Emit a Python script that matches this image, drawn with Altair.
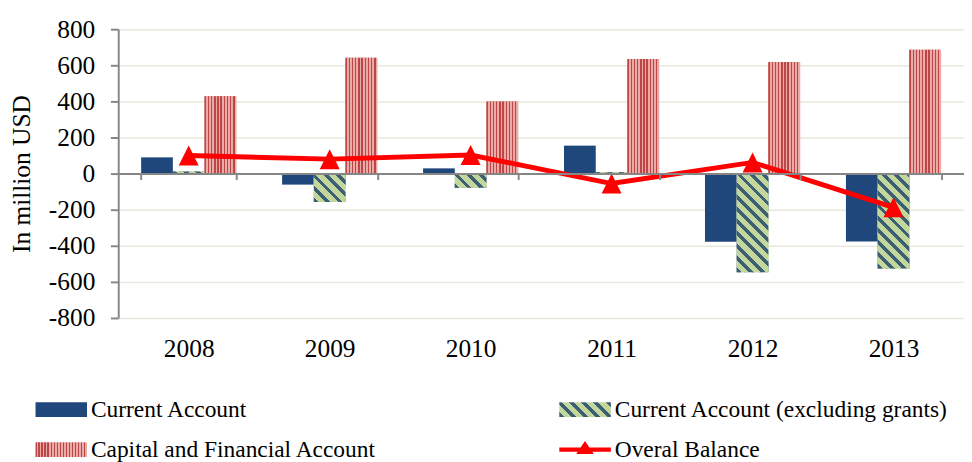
import altair as alt
import pandas as pd

# ---------------- data ----------------
years = ["2008", "2009", "2010", "2011", "2012", "2013"]
current_account = [90, -61, 29, 155, -378, -376]
current_account_ex_grants = [12, -158, -79, 8, -546, -526]
capital_financial = [429, 642, 400, 635, 618, 686]
overall_balance = [100, 80, 103, -55, 62, -187]

series_names = [
    "Current Account",
    "Current Account (excluding grants)",
    "Capital and Financial Account",
    "Overal Balance",
]
bar_series = series_names[:3]
y_ticks = [-800, -600, -400, -200, 0, 200, 400, 600, 800]
y_domain = [-800, 800]

# ---------------- style ----------------
W, H = 867, 296
SERIF = "Liberation Serif"
GRAY = "#868686"
GRID = "#EAE8DD"
BLUE = "#1F477B"
GREEN_DARK, GREEN_LIGHT = "#3C5F73", "#C3D69B"
RED_DARK, RED_LIGHT = "#BE4644", "#E9AAA8"
LINE_RED = "#FF0000"
PX_PER_UNIT = H / (y_domain[1] - y_domain[0])
BAR_W = W / len(years) * 0.675 / 3
ZERO_OFFSET = -H * (0 - y_domain[0]) / (y_domain[1] - y_domain[0])


def vstripes(n, dark, light, frac):
    stops = []
    for k in range(n):
        a, b, c = k / n, (k + frac) / n, (k + 1) / n
        stops += [
            {"offset": round(a, 4), "color": dark},
            {"offset": round(b, 4), "color": dark},
            {"offset": round(b, 4), "color": light},
            {"offset": round(c, 4), "color": light},
        ]
    return {"gradient": "linear", "x1": 0, "y1": 0, "x2": 1, "y2": 0, "stops": stops}


def dstripes(w, h, period, frac, dark, light):
    L = w + h
    s = L / (w * w + h * h)
    stops = []
    d = 0.0
    while d < L:
        a = d / L
        b = min((d + frac * period) / L, 1.0)
        c = min((d + period) / L, 1.0)
        stops += [
            {"offset": round(a, 4), "color": dark},
            {"offset": round(b, 4), "color": dark},
            {"offset": round(b, 4), "color": light},
            {"offset": round(c, 4), "color": light},
        ]
        d += period
    return {"gradient": "linear", "x1": 0, "y1": 1,
            "x2": round(s * w, 5), "y2": round(1 - s * h, 5), "stops": stops}


def to_expr(g):
    stops = ",".join("{offset:%s,color:'%s'}" % (st["offset"], st["color"]) for st in g["stops"])
    return "{gradient:'linear',x1:%s,y1:%s,x2:%s,y2:%s,stops:[%s]}" % (
        g["x1"], g["y1"], g["x2"], g["y2"], stops)


# legend-sized patterns (used by the colour scale, hence by the legend)
legend_green = dstripes(53, 15, 12.5, 0.4, GREEN_DARK, GREEN_LIGHT)
legend_red = vstripes(17, RED_DARK, RED_LIGHT, 0.45)
bar_red = vstripes(10, RED_DARK, RED_LIGHT, 0.45)

# ---------------- tables ----------------
rows = []
for name, vals in zip(bar_series, [current_account, current_account_ex_grants, capital_financial]):
    for yr, v in zip(years, vals):
        rows.append({"year": yr, "series": name, "value": v})
bars_df = pd.DataFrame(rows)
bal_df = pd.DataFrame({"year": years, "series": series_names[3], "value": overall_balance})

color_scale = alt.Scale(
    domain=series_names,
    range=[BLUE, alt.ExprRef(expr=to_expr(legend_green)),
           alt.ExprRef(expr=to_expr(legend_red)), LINE_RED],
)
RECT = "M-1,-0.283H1V0.283H-1Z"
LINE_TRI = "M-1,-0.085H1V0.085H-1Z M-0.34,0.17L0,-0.34L0.34,0.17Z"
shape_scale = alt.Scale(domain=series_names, range=[RECT, RECT, RECT, LINE_TRI])

x_enc = alt.X(
    "year:N",
    scale=alt.Scale(paddingInner=0.325, paddingOuter=0.1625),
    axis=alt.Axis(
        title=None, offset=ZERO_OFFSET, tickBand="extent", tickSize=6, tickWidth=2,
        tickColor=GRAY, domainColor=GRAY, domainWidth=2, labelFont=SERIF,
        labelFontSize=26, labelColor="black", labelPadding=161, labelAngle=0,
        grid=False, zindex=1,
    ),
)
xo_enc = alt.XOffset("series:N", scale=alt.Scale(domain=bar_series, paddingInner=0, paddingOuter=0))
y_enc = alt.Y(
    "value:Q",
    scale=alt.Scale(domain=y_domain, nice=False),
    axis=alt.Axis(
        values=y_ticks, labelExpr="'' + datum.value", title="In million USD",
        titleFont=SERIF, titleFontSize=26, titleFontWeight="normal", titleColor="black",
        titlePadding=14, labelFont=SERIF, labelFontSize=26, labelColor="black",
        labelPadding=16, tickSize=8, tickWidth=2, tickColor=GRAY, domainColor=GRAY,
        domainWidth=2, gridColor=GRID, gridWidth=1.5,
    ),
)

base_bars = alt.Chart(bars_df).mark_bar().encode(
    x=x_enc, xOffset=xo_enc, y=y_enc,
    color=alt.Color("series:N", scale=color_scale, title=None),
)

red_overlay = alt.Chart(bars_df).transform_filter(
    alt.datum.series == bar_series[2]
).mark_bar().encode(x=x_enc, xOffset=xo_enc, y=y_enc, color=alt.value(bar_red))

green_layers = []
for i, yr in enumerate(years):
    h = max(abs(current_account_ex_grants[i]) * PX_PER_UNIT, 0.5)
    g = dstripes(BAR_W, h, 12.5, 0.4, GREEN_DARK, GREEN_LIGHT)
    green_layers.append(
        alt.Chart(bars_df).transform_filter(
            (alt.datum.series == bar_series[1]) & (alt.datum.year == yr)
        ).mark_bar().encode(x=x_enc, xOffset=xo_enc, y=y_enc, color=alt.value(g))
    )

line = alt.Chart(bal_df).mark_line(strokeWidth=5).encode(
    x=x_enc, y=y_enc, color=alt.Color("series:N", scale=color_scale, title=None),
)
tris = alt.Chart(bal_df).mark_point(
    shape="M0,-1L1,1L-1,1Z", filled=True, size=420, opacity=1, color=LINE_RED
).encode(x=x_enc, y=y_enc)

legend_carrier = alt.Chart(bal_df).transform_filter("false").mark_point(
    filled=True, opacity=1
).encode(
    x=x_enc, y=y_enc,
    color=alt.Color("series:N", scale=color_scale, title=None),
    shape=alt.Shape("series:N", scale=shape_scale, title=None),
)

chart = alt.layer(
    base_bars, red_overlay, *green_layers, line, tris, legend_carrier
).properties(
    width=W, height=H,
    padding={"left": 1, "top": 3, "right": 0, "bottom": 0},
    background="white",
).configure_view(stroke=None).configure_legend(
    orient="none", legendX=-85, legendY=378, direction="horizontal", columns=2,
    columnPadding=187, rowPadding=17, clipHeight=24, labelFont=SERIF,
    labelFontSize=24, labelColor="black", labelLimit=500, labelOffset=4,
    symbolSize=2809, symbolStrokeWidth=0, padding=0,
)

chart.save("out.html", embed_options={"renderer": "svg", "actions": False})
